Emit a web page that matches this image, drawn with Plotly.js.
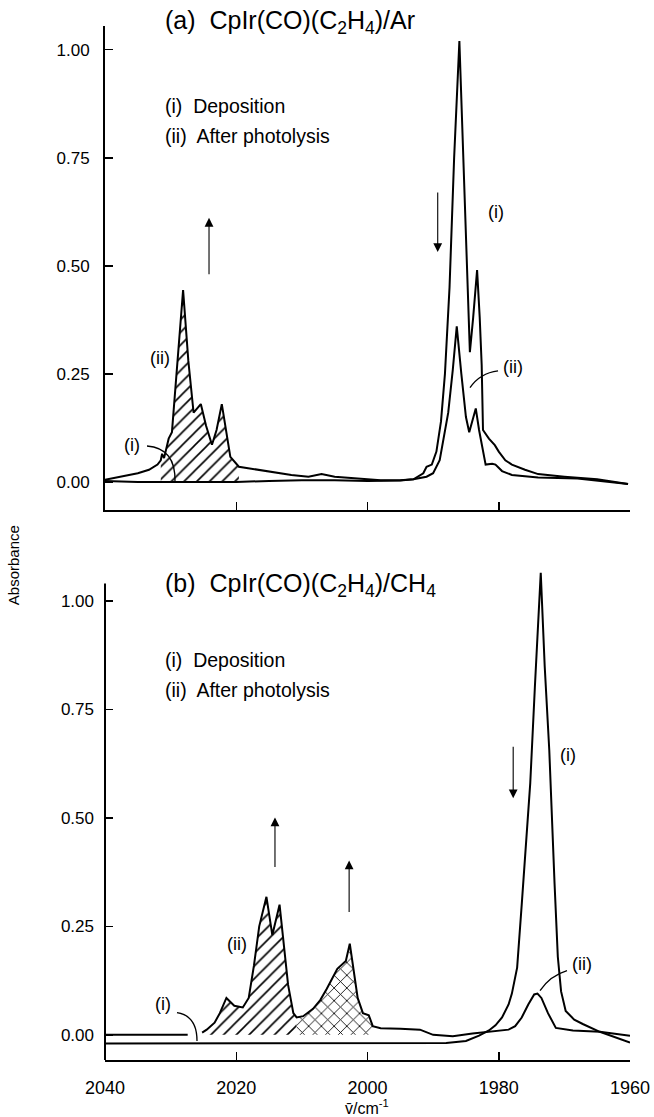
<!DOCTYPE html>
<html>
<head>
<meta charset="utf-8">
<script src="https://cdn.plot.ly/plotly-3.0.1.min.js"></script>
<style>html,body{margin:0;padding:0;background:#fff;}#chart{width:654px;height:1117px;}</style>
</head>
<body>
<div id="chart"></div>
<script>
// ---- Data (wavenumber in cm-1, absorbance) ----
// Panel (a) CpIr(CO)(C2H4)/Ar
const aDepX = [2040,2035,2030,2025,2020,2015,2010,2005,2000,1995,1993,1991.5,1991,1990.2,1989.5,1988.8,1988.2,1987.5,1986.8,1986.0,1985.3,1984.8,1984.4,1983.9,1983.3,1982.9,1982.6,1982.4,1981.5,1980.6,1980,1979,1978,1976,1974,1970,1965,1960.3];
const aDepY = [0.002,0.0,0.0,0.0,0.0,0.002,0.004,0.004,0.002,0.003,0.006,0.02,0.035,0.04,0.07,0.14,0.25,0.45,0.75,1.02,0.70,0.45,0.30,0.38,0.49,0.38,0.27,0.12,0.10,0.085,0.07,0.05,0.04,0.028,0.018,0.012,0.006,-0.005];
const aPhotX = [2040,2037,2035,2033.3,2032,2031.5,2031.3,2031.0,2030.6,2030.3,2029.8,2029,2028.1,2027.3,2026.5,2025.4,2024.6,2023.7,2023,2022.2,2021.6,2020.9,2019.6,2016.6,2011.6,2009,2007,2005,2002,1998,1995,1993,1991,1990,1989,1988.5,1987.7,1987,1986.4,1985.7,1985,1984.5,1984,1983.5,1983,1982,1981,1980.5,1979.5,1978,1974,1968,1960.3];
const aPhotY = [0.005,0.014,0.02,0.028,0.04,0.05,0.065,0.055,0.085,0.10,0.115,0.28,0.444,0.28,0.16,0.18,0.13,0.086,0.12,0.18,0.12,0.058,0.035,0.028,0.016,0.012,0.018,0.012,0.008,0.004,0.004,0.006,0.012,0.02,0.05,0.09,0.16,0.26,0.36,0.25,0.15,0.115,0.14,0.17,0.12,0.04,0.042,0.04,0.025,0.016,0.01,0.008,-0.005];
// Panel (b) CpIr(CO)(C2H4)/CH4
const bDepX = [2040,2030,2010,1995,1988,1985,1983,1981.5,1980.5,1979.5,1978.5,1978,1977.2,1976.5,1975.5,1975.2,1974.5,1973.6,1973.0,1972.3,1971.5,1971,1970.5,1969.8,1968.5,1967.2,1964.6,1962,1960];
const bDepY = [-0.02,-0.02,-0.02,-0.02,-0.019,-0.014,-0.002,0.01,0.022,0.04,0.07,0.095,0.155,0.30,0.52,0.58,0.80,1.065,0.85,0.656,0.35,0.18,0.10,0.055,0.035,0.025,0.007,-0.007,-0.018];
const bPhotX = [2040,2027.4,2026.3,2025.2,2024.5,2023.3,2022.5,2021.5,2020.3,2019.0,2018.1,2017.3,2016.5,2015.4,2014.5,2013.4,2012.7,2012.1,2011.3,2010.8,2009.8,2008.3,2007.2,2006.2,2004.6,2003.3,2002.7,2001.5,2000.7,1999.8,1999.2,1998,1995,1992,1990,1987,1984,1981,1978.5,1977.5,1976.5,1975.5,1974.6,1974.1,1973.5,1972.5,1971.3,1968.7,1964.6,1960];
const bPhotY = [0.0,0.0,null,0.005,0.012,0.028,0.05,0.085,0.067,0.063,0.085,0.16,0.25,0.318,0.23,0.30,0.20,0.115,0.05,0.04,0.043,0.06,0.08,0.106,0.152,0.17,0.21,0.085,0.05,0.045,0.02,0.015,0.014,0.012,0.0,-0.003,0.003,0.007,0.012,0.02,0.04,0.07,0.093,0.095,0.085,0.05,0.016,0.01,0.007,-0.002];
// Shaded band limits (cm-1)
const aHatch = [2031.5, 2019.6];
const bHatch = [2025.2, 2010.8];
const bCross = [2010.8, 1999.2];
// Axis ticks
const xTicks = [2040, 2020, 2000, 1980, 1960];
const yTicks = [0, 0.25, 0.5, 0.75, 1.0];
const yTickText = ['0.00', '0.25', '0.50', '0.75', '1.00'];

function seg(xs, ys, r) {
  const ox = [], oy = [];
  for (let i = 0; i < xs.length; i++) {
    if (xs[i] <= r[0] && xs[i] >= r[1] && ys[i] !== null) { ox.push(xs[i]); oy.push(ys[i]); }
  }
  return {x: ox, y: oy};
}

const FONT = 'Liberation Sans, Arial, Helvetica, sans-serif';
const line = {color: '#000', width: 2};
const hatch = (shape, size) => ({shape: shape, size: size, solidity: 0.18, fgcolor: '#000', bgcolor: '#fff'});

const sA = seg(aPhotX, aPhotY, aHatch);
const sB = seg(bPhotX, bPhotY, bHatch);
const sC = seg(bPhotX, bPhotY, bCross);

const traces = [
  {x: sA.x, y: sA.y, xaxis: 'x', yaxis: 'y', mode: 'lines', line: {width: 0}, fill: 'tozeroy', fillpattern: hatch('/', 9), fillcolor: 'rgba(0,0,0,0)', hoverinfo: 'skip'},
  {x: sB.x, y: sB.y, xaxis: 'x2', yaxis: 'y2', mode: 'lines', line: {width: 0}, fill: 'tozeroy', fillpattern: hatch('/', 9), fillcolor: 'rgba(0,0,0,0)', hoverinfo: 'skip'},
  {x: sC.x, y: sC.y, xaxis: 'x2', yaxis: 'y2', mode: 'lines', line: {width: 0}, fill: 'tozeroy', fillpattern: hatch('x', 9), fillcolor: 'rgba(0,0,0,0)', hoverinfo: 'skip'},
  {x: aDepX, y: aDepY, xaxis: 'x', yaxis: 'y', mode: 'lines', line: line, name: '(i)'},
  {x: aPhotX, y: aPhotY, xaxis: 'x', yaxis: 'y', mode: 'lines', line: line, name: '(ii)'},
  {x: bDepX, y: bDepY, xaxis: 'x2', yaxis: 'y2', mode: 'lines', line: line, name: '(i)'},
  {x: bPhotX, y: bPhotY, xaxis: 'x2', yaxis: 'y2', mode: 'lines', line: line, name: '(ii)', connectgaps: false}
];

const xBase = {
  range: [2040, 1960], tickvals: xTicks, ticks: 'inside', ticklen: 8, tickwidth: 1.5, tickcolor: '#000',
  showline: true, linecolor: '#000', linewidth: 2, showgrid: false, zeroline: false, fixedrange: true
};
const yBase = {
  tickvals: yTicks, ticktext: yTickText, ticks: 'inside', ticklen: 8, tickwidth: 1.5, tickcolor: '#000',
  showgrid: false, zeroline: false, linecolor: '#000', linewidth: 2, fixedrange: true,
  tickfont: {family: FONT, size: 17, color: '#000'}, ticklabelstandoff: 10
};

const lab = (x, y, t, xr, yr, size) => ({x: x, y: y, xref: xr, yref: yr, text: t, showarrow: false,
  font: {family: FONT, size: size || 17, color: '#000'}, xanchor: 'center', yanchor: 'middle'});
const txt = (x, y, t, xr, yr, size) => Object.assign(lab(x, y, t, xr, yr, size), {xanchor: 'left'});
const arr = (x, y, ay, xr, yr) => ({x: x, y: y, xref: xr, yref: yr, ax: 0, ay: ay, text: '', showarrow: true,
  arrowhead: 2, arrowsize: 1.6, arrowwidth: 1.1, arrowcolor: '#000'});

const annotations = [
  txt(0.1105, 0.979, '(a)  CpIr(CO)(C<sub>2</sub>H<sub>4</sub>)/Ar', 'paper', 'paper', 25),
  txt(2031.2, 0.87, '(i)  Deposition', 'x', 'y', 19.5),
  txt(2031.2, 0.80, '(ii)  After photolysis', 'x', 'y', 19.5),
  lab(1980.4, 0.625, '(i)', 'x', 'y', 18),
  lab(1977.8, 0.266, '(ii)', 'x', 'y', 18),
  lab(2031.6, 0.287, '(ii)', 'x', 'y', 18),
  lab(2035.9, 0.086, '(i)', 'x', 'y', 18),
  arr(1989.3, 0.532, -61, 'x', 'y'),
  arr(2024.15, 0.611, 58, 'x', 'y'),

  txt(0.1105, 0.448, '(b)  CpIr(CO)(C<sub>2</sub>H<sub>4</sub>)/CH<sub>4</sub>', 'paper', 'paper', 25),
  txt(2031.2, 0.864, '(i)  Deposition', 'x2', 'y2', 19.5),
  txt(2031.2, 0.794, '(ii)  After photolysis', 'x2', 'y2', 19.5),
  lab(1969.4, 0.644, '(i)', 'x2', 'y2', 18),
  lab(1967.3, 0.164, '(ii)', 'x2', 'y2', 18),
  lab(2019.9, 0.21, '(ii)', 'x2', 'y2', 18),
  lab(2031.2, 0.072, '(i)', 'x2', 'y2', 18),
  arr(1977.8, 0.545, -53, 'x2', 'y2'),
  arr(2014.1, 0.501, 51, 'x2', 'y2'),
  arr(2002.8, 0.402, 53, 'x2', 'y2'),

  {x: -0.173, y: 0.467, xref: 'paper', yref: 'paper', text: 'Absorbance', textangle: -90, showarrow: false,
   font: {family: FONT, size: 15, color: '#000'}, xanchor: 'center', yanchor: 'middle'},
  lab(0.499, -0.0445, 'v\u0304/cm<sup>-1</sup>', 'paper', 'paper', 16)
];

const pth = (xr, yr, d) => ({type: 'path', xref: xr, yref: yr, path: d, line: {color: '#000', width: 1.3}});
const shapes = [
  pth('x', 'y', 'M 2033.6,0.083 Q 2029.2,0.078 2029.33,0.0'),
  pth('x', 'y', 'M 1980.11,0.257 Q 1982.86,0.252 1984.38,0.218'),
  pth('x2', 'y2', 'M 2029.03,0.051 Q 2025.98,0.044 2025.98,-0.014'),
  pth('x2', 'y2', 'M 1969.6,0.148 Q 1972.19,0.136 1973.71,0.102'),
  {type: 'line', xref: 'paper', yref: 'y2', x0: 0, x1: 0, y0: -0.058, y1: 1.04, line: {color: '#000', width: 2}}
];

const layout = {
  width: 654, height: 1117,
  margin: {l: 105, r: 24, t: 0, b: 57},
  paper_bgcolor: '#fff', plot_bgcolor: 'rgba(0,0,0,0)',
  showlegend: false,
  xaxis: Object.assign({}, xBase, {anchor: 'y', showticklabels: false}),
  yaxis: Object.assign({}, yBase, {domain: [0.5189, 0.9755], range: [-0.065, 1.055], anchor: 'x', showline: true}),
  xaxis2: Object.assign({}, xBase, {anchor: 'y2', showticklabels: true, ticklabelstandoff: 10,
    tickfont: {family: FONT, size: 18, color: '#000'}}),
  yaxis2: Object.assign({}, yBase, {domain: [0, 0.4642], range: [-0.058, 1.076], anchor: 'x2', showline: false}),
  annotations: annotations,
  shapes: shapes
};

Plotly.newPlot('chart', traces, layout, {displayModeBar: false, staticPlot: true});
</script>
</body>
</html>
